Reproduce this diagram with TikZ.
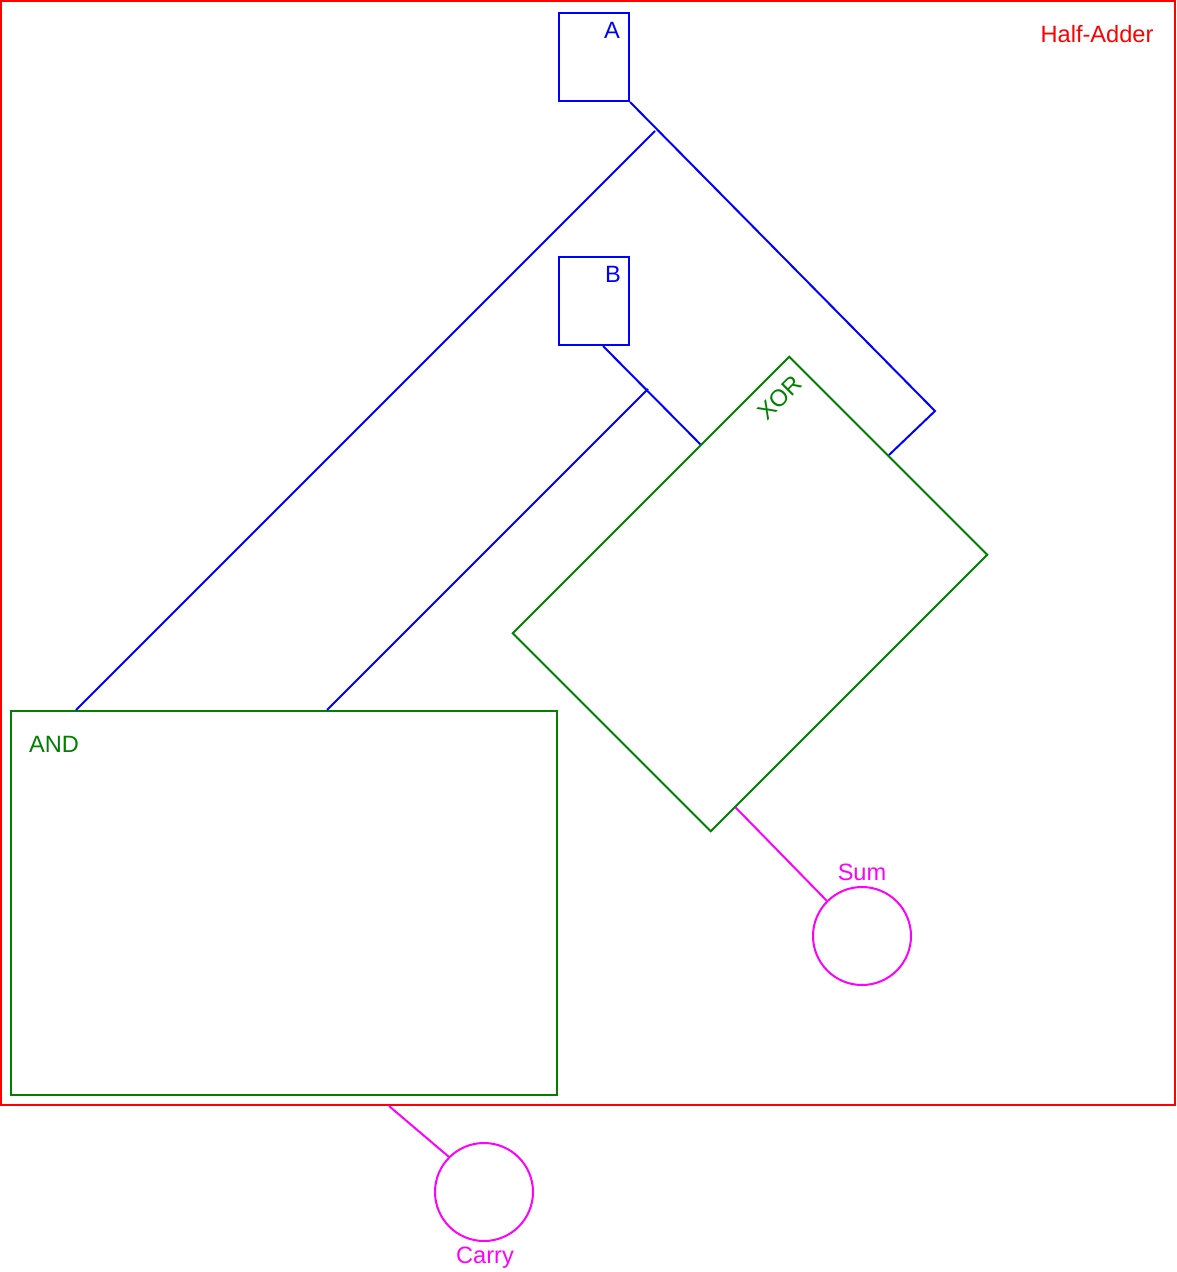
\documentclass[tikz,border=0pt]{standalone}
\usepackage{fontspec}
\setmainfont{Liberation Sans}
\usetikzlibrary{calc}
\definecolor{framec}{HTML}{FF0000}
\definecolor{wirec}{HTML}{0000FF}
\definecolor{gatec}{HTML}{008000}
\definecolor{outc}{HTML}{FF00FF}
\tikzset{
  frame/.style={draw=framec, line width=1pt, inner sep=0pt},
  inbox/.style={draw=wirec, line width=1pt, inner sep=0pt, minimum width=35pt, minimum height=44pt},
  gate/.style={draw=gatec, line width=1pt, inner sep=0pt},
  pin/.style={circle, draw=outc, line width=1pt, inner sep=0pt, minimum size=49pt},
  wire/.style={draw=wirec, line width=1pt},
  owire/.style={draw=outc, line width=1pt},
  lbl/.style={font=\fontsize{11.8}{14}\selectfont, inner sep=0pt},
}

\begin{document}
\begin{tikzpicture}[x=0.5pt, y=-0.5pt]
\useasboundingbox (0,0) rectangle (1176,1272);

% ---------------- frame ----------------
\node[frame, minimum width=587pt, minimum height=552pt] (halfadder) at (588,553) {};
\node[lbl, text=framec] (halflbl) at (1097,34) {Half-Adder};

% ---------------- inputs ----------------
\node[inbox] (a) at (594,57) {};
\node[lbl, text=wirec] (albl) at (612,30) {A};
\node[inbox] (b) at (594,301) {};
\node[lbl, text=wirec] (blbl) at (613,274) {B};

% ---------------- gates ----------------
\node[gate, rotate=-45, minimum width=140pt, minimum height=195.5pt] (xor) at (750,594) {};
\node[lbl, text=gatec, rotate=45] (xorlbl) at (780,398) {XOR};
\node[gate, minimum width=273pt, minimum height=192pt] (and) at (284,903) {};
\node[lbl, text=gatec] (andlbl) at (54,744) {AND};

% ---------------- outputs ----------------
\node[pin] (sum) at (862,936) {};
\node[lbl, text=outc] (sumlbl) at (862,872) {Sum};
\node[pin] (carry) at (484,1192) {};
\node[lbl, text=outc] (carrylbl) at (485,1258) {Carry};

% ---------------- wires ----------------
\coordinate (asplit) at (655,131);
\coordinate (abend) at (935,411);
\coordinate (bsplit) at (648,389);
\draw[wire] (a.south east) -- (abend) -- (xor.north);
\draw[wire] (asplit) -- ($(and.north west)+(66,0)$);
\draw[wire] ($(b.south)+(9,0)$) -- ($(xor.north west)!0.32!(xor.south west)$);
\draw[wire] (bsplit) -- ($(and.north west)+(317,0)$);
\draw[owire] ($(xor.south east)!0.09!(xor.north east)$) -- (sum.135);
\draw[owire] ($(halfadder.south west)+(389,0)$) -- (carry.135);

\end{tikzpicture}
\end{document}
